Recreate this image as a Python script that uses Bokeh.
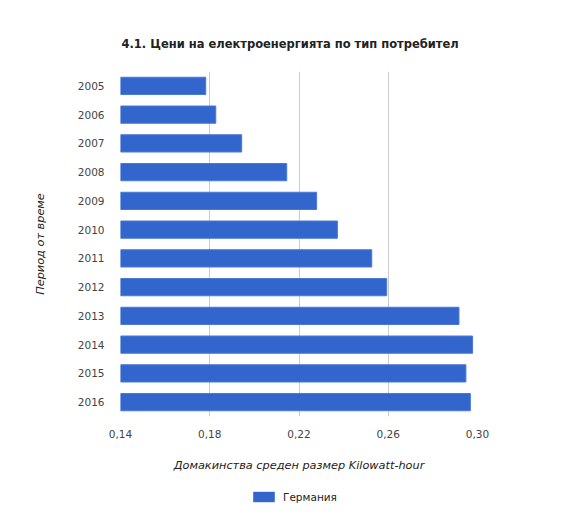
from bokeh.plotting import figure
from bokeh.models import ColumnDataSource, FactorRange, Range1d, FixedTicker, Legend, LegendItem
from bokeh.layouts import column
from bokeh.embed import file_html
from bokeh.resources import INLINE

years = ["2005", "2006", "2007", "2008", "2009", "2010", "2011", "2012", "2013", "2014", "2015", "2016"]
germany = [0.1782, 0.1827, 0.1943, 0.2145, 0.2279, 0.2372, 0.2526, 0.2593, 0.2917, 0.2978, 0.2948, 0.2968]
x_ticks = [0.14, 0.18, 0.22, 0.26, 0.30]
x_tick_labels = ["0,14", "0,18", "0,22", "0,26", "0,30"]
series_name = "Германия"
title_text = "4.1. Цени на електроенергията по тип потребител"
x_label = "Домакинства среден размер Kilowatt-hour"
y_label = "Период от време"

FONT = "DejaVu Sans"
BLUE = "#3366cc"
EDGE = "#4a78d6"

source = ColumnDataSource(dict(year=years, value=germany, left=[x_ticks[0]] * len(years)))

p = figure(width=558, height=478, output_backend="svg", toolbar_location=None,
           y_range=FactorRange(factors=list(reversed(years)), range_padding=0),
           x_range=Range1d(x_ticks[0], x_ticks[-1]),
           min_border_left=120, min_border_right=81, min_border_top=71, min_border_bottom=62)

r = p.hbar(y="year", left="left", right="value", height=0.6, source=source,
           fill_color=BLUE, line_color=EDGE, line_width=1)

p.title.text = title_text
p.title.align = "left"
p.title.offset = 1
p.title.text_font = FONT
p.title.text_font_size = "11.5px"
p.title.text_font_style = "bold"
p.title.text_color = "#222222"
p.title.standoff = 42

p.outline_line_color = None
p.background_fill_color = "white"
p.border_fill_color = "white"

p.xaxis.ticker = FixedTicker(ticks=x_ticks)
p.xaxis.major_label_overrides = {t: l for t, l in zip(x_ticks, x_tick_labels)}
for ax in (p.xaxis[0], p.yaxis[0]):
    ax.axis_line_color = None
    ax.major_tick_line_color = None
    ax.minor_tick_line_color = None
    ax.major_label_text_font = FONT
    ax.major_label_text_font_size = "10.5px"
    ax.major_label_text_color = "#444444"
    ax.axis_label_text_font = FONT
    ax.axis_label_text_font_size = "11.3px"
    ax.axis_label_text_font_style = "italic"
    ax.axis_label_text_color = "#222222"

p.xaxis.axis_label = x_label
p.xaxis.major_label_standoff = 7
p.xaxis.axis_label_standoff = 18
p.yaxis.axis_label = y_label
p.yaxis.major_label_standoff = 10
p.yaxis.axis_label_standoff = 28

p.xgrid.grid_line_color = "#cccccc"
p.ygrid.grid_line_color = None

# legend strip below the chart; its renderer is a zero-size proxy that only supplies the swatch style
p2 = figure(width=558, height=35, output_backend="svg", toolbar_location=None,
            x_range=Range1d(0, 1), y_range=Range1d(0, 1),
            min_border_left=120, min_border_right=81, min_border_top=0, min_border_bottom=0)
p2.axis.visible = False
p2.grid.visible = False
p2.outline_line_color = None
p2.background_fill_color = "white"
p2.border_fill_color = "white"
r2 = p2.hbar(y=[0.5], left=[0], right=[0], height=0,
             fill_color=BLUE, line_color=None)
legend = Legend(items=[LegendItem(label=series_name, renderers=[r2])], location=(130, 10),
                orientation="horizontal", border_line_color=None, background_fill_alpha=0,
                label_text_font=FONT, label_text_font_size="10.5px", label_text_color="#222222",
                glyph_width=27, glyph_height=13, label_standoff=6, margin=0, padding=4)
p2.add_layout(legend, "center")

open("out.html", "w").write(file_html(column(p, p2), INLINE))
